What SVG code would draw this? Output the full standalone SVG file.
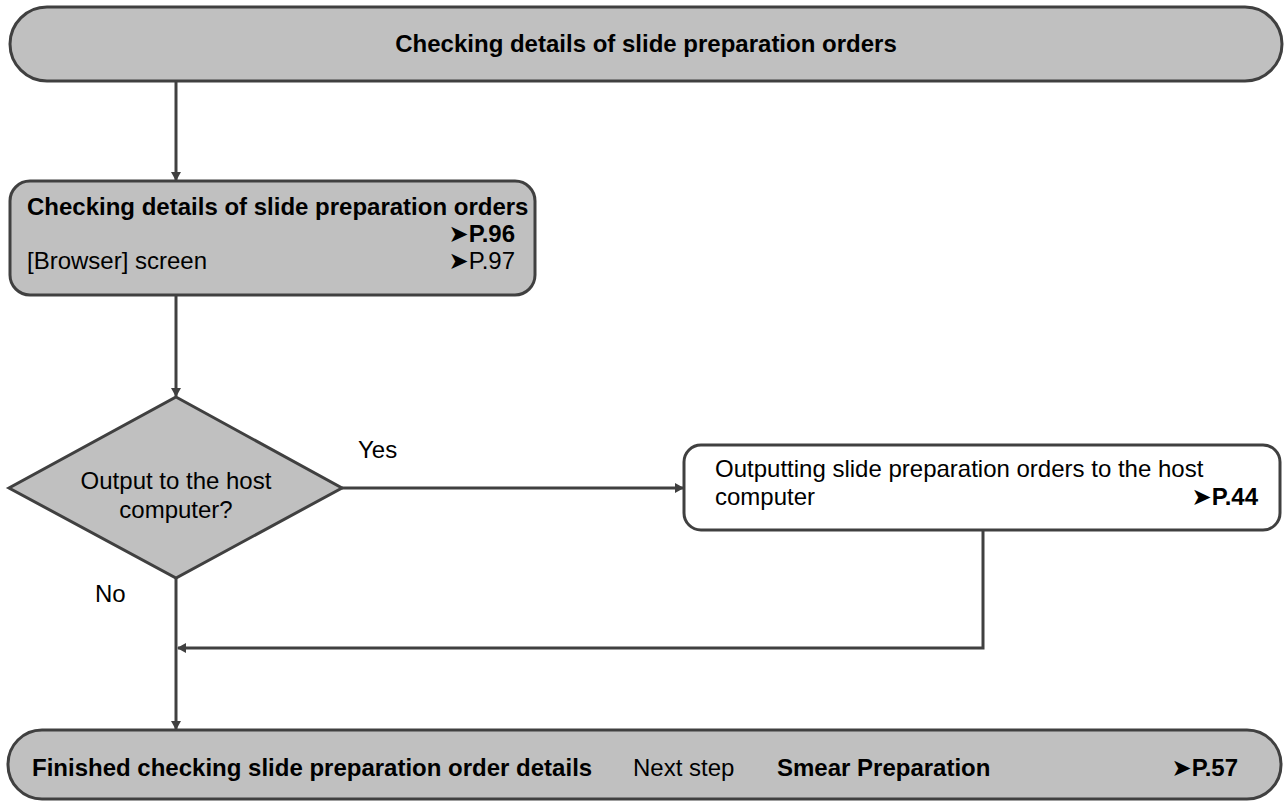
<svg xmlns="http://www.w3.org/2000/svg" width="1287" height="801" viewBox="0 0 1287 801">
<style>
.shape{fill:#c0c0c0;stroke:#404040;stroke-width:3}
.white{fill:#ffffff;stroke:#404040;stroke-width:3}
.conn{fill:none;stroke:#404040;stroke-width:3}
text{font-family:"Liberation Sans","DejaVu Sans",Arial,sans-serif;font-size:24px;fill:#000}
.b{font-weight:bold}
</style>
<defs>
<marker id="arr" markerWidth="10" markerHeight="10" refX="8" refY="5" orient="auto" markerUnits="userSpaceOnUse">
<path d="M0,0 L9,5 L0,10 Z" fill="#404040"/>
</marker>
</defs>
<g id="start">
<rect class="shape" x="10" y="7" width="1272" height="74" rx="37" ry="37"/>
<text class="b" x="646" y="52" text-anchor="middle">Checking details of slide preparation orders</text>
</g>
<g id="check">
<rect class="shape" x="10" y="181" width="525" height="114" rx="20" ry="20"/>
<text class="b" x="27" y="215">Checking details of slide preparation orders</text>
<text class="b" x="515" y="242" text-anchor="end">➤P.96</text>
<text x="27" y="269">[Browser] screen</text>
<text x="515" y="269" text-anchor="end">➤P.97</text>
</g>
<g id="decision">
<polygon class="shape" points="176,397 342,488 176,578 9,488"/>
<text x="176" y="489" text-anchor="middle">Output to the host</text>
<text x="176" y="518" text-anchor="middle">computer?</text>
</g>
<g id="output">
<rect class="white" x="684" y="445" width="596" height="85" rx="17" ry="17"/>
<text x="715" y="477">Outputting slide preparation orders to the host</text>
<text x="715" y="505">computer</text>
<text class="b" x="1258" y="505" text-anchor="end">➤P.44</text>
</g>
<g id="finish">
<rect class="shape" x="8" y="730" width="1273" height="69" rx="34" ry="34"/>
<text class="b" x="32" y="776">Finished checking slide preparation order details</text>
<text x="633" y="776">Next step</text>
<text class="b" x="777" y="776">Smear Preparation</text>
<text class="b" x="1238" y="776" text-anchor="end">➤P.57</text>
</g>
<g id="connectors">
<line class="conn" x1="176" y1="81" x2="176" y2="180" marker-end="url(#arr)"/>
<line class="conn" x1="176" y1="295" x2="176" y2="396" marker-end="url(#arr)"/>
<line class="conn" x1="342" y1="488" x2="683" y2="488" marker-end="url(#arr)"/>
<polyline class="conn" points="983,530 983,648 178,648" marker-end="url(#arr)"/>
<line class="conn" x1="176" y1="578" x2="176" y2="729" marker-end="url(#arr)"/>
<text x="358" y="458">Yes</text>
<text x="95" y="602">No</text>
</g>
</svg>
